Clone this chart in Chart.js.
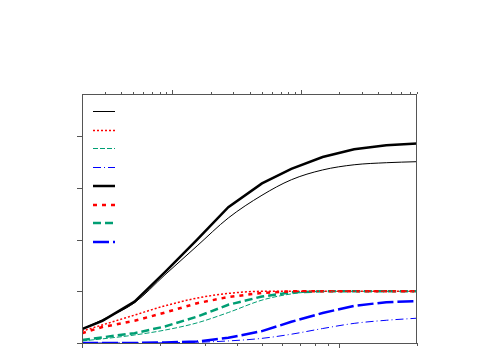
<!DOCTYPE html>
<html>
<head>
<meta charset="utf-8">
<script src="https://cdn.jsdelivr.net/npm/chart.js@4"></script>
<style>
html,body{margin:0;padding:0;background:#fff;}
#wrap{width:500px;height:350px;}
</style>
</head>
<body>
<div id="wrap"><canvas id="c" width="500" height="350"></canvas></div>
<script>
// ---- data ----
const xs = [1, 1.2, 1.6, 2.1, 2.8, 3.7, 5, 6.5, 8.6, 11.4, 15.2, 20];
const blackThin  = [0.27, 0.45, 0.78, 1.32, 1.88, 2.42, 2.86, 3.16, 3.35, 3.45, 3.49, 3.51];
const redDotted  = [0.23, 0.35, 0.54, 0.72, 0.87, 0.96, 1.0, 1.0, 1.0, 1.0, 1.0, 1.0];
const greenThin  = [0.04, 0.08, 0.155, 0.25, 0.39, 0.59, 0.83, 0.95, 1.0, 1.0, 1.0, 1.0];
const blueThin   = [0, 0, 0, 0.005, 0.015, 0.04, 0.09, 0.17, 0.28, 0.38, 0.44, 0.48];
const blackThick = [0.27, 0.43, 0.80, 1.37, 2.0, 2.63, 3.09, 3.37, 3.60, 3.75, 3.83, 3.86];
const redThick   = [0.19, 0.31, 0.43, 0.59, 0.77, 0.89, 0.97, 1.0, 1.0, 1.0, 1.0, 1.0];
const greenThick = [0.06, 0.11, 0.19, 0.32, 0.51, 0.74, 0.90, 0.98, 1.0, 1.0, 1.0, 1.0];
const blueThick  = [0, 0, 0, 0.01, 0.03, 0.10, 0.23, 0.41, 0.58, 0.72, 0.79, 0.81];

// tick values (no labels shown)
const bottomTicks = [1, 2, 3, 4, 5, 6, 7, 8, 9, 10, 20];
const topTicks = [0.3, 0.4, 0.5, 0.6, 0.7, 0.8, 0.9, 1, 2, 3, 4, 5, 6, 7, 8, 9, 10, 20, 30, 40, 50, 60, 70, 80];
const yTicks = [0, 1, 2, 3, 4];

const pts = arr => xs.map((x, i) => ({x: x, y: arr[i]}));

const GREEN = '#009e73';
const series = [
  {data: blackThin,  color: '#000000', width: 1,   dash: [],          smooth: true},
  {data: redDotted,  color: '#ff0000', width: 1.5, dash: [2, 2],      smooth: true},
  {data: greenThin,  color: GREEN,     width: 1,   dash: [5, 2],      smooth: true},
  {data: blueThin,   color: '#0000ff', width: 1,   dash: [8, 3, 1, 3], smooth: true},
  {data: blackThick, color: '#000000', width: 2.5, dash: [],          smooth: false},
  {data: redThick,   color: '#ff0000', width: 2.5, dash: [4, 5],      smooth: false},
  {data: greenThick, color: GREEN,     width: 2.5, dash: [8, 4],      smooth: false},
  {data: blueThick,  color: '#0000ff', width: 2.5, dash: [16, 4],     smooth: false}
];

const datasets = series.map(s => ({
  data: pts(s.data),
  borderColor: s.color,
  backgroundColor: s.color,
  borderWidth: s.width,
  borderDash: s.dash,
  pointRadius: 0,
  fill: false,
  cubicInterpolationMode: s.smooth ? 'monotone' : 'default',
  tension: 0,
  xAxisID: 'x',
  yAxisID: 'y'
}));

const framePlugin = {
  id: 'frame',
  afterDraw(chart) {
    const ctx = chart.ctx;
    const a = chart.chartArea;
    const sx = chart.scales.x, st = chart.scales.x2, sy = chart.scales.y;
    ctx.save();
    ctx.strokeStyle = '#555555';
    ctx.lineWidth = 1;
    ctx.setLineDash([]);
    ctx.strokeRect(a.left + 0.5, a.top + 0.5, a.right - a.left - 1, a.bottom - a.top);
    const isMajor = v => Math.abs(Math.log10(v) - Math.round(Math.log10(v))) < 1e-9;
    ctx.beginPath();
    bottomTicks.forEach(v => {
      const px = Math.round(sx.getPixelForValue(v)) + 0.5;
      const len = isMajor(v) ? 5 : 3;
      ctx.moveTo(px, a.bottom); ctx.lineTo(px, a.bottom + len);
    });
    topTicks.forEach(v => {
      const px = Math.round(st.getPixelForValue(v)) + 0.5;
      const len = isMajor(v) ? 4 : 2;
      ctx.moveTo(px, a.top); ctx.lineTo(px, a.top - len);
    });
    yTicks.forEach(v => {
      const py = Math.round(sy.getPixelForValue(v)) + 0.5;
      ctx.moveTo(a.left, py); ctx.lineTo(a.left - 5, py);
    });
    ctx.stroke();
    // legend samples (no text)
    series.forEach((s, i) => {
      let y = Math.round(a.top + 17 + i * 18.7);
      if (s.width < 2) y += 0.5;
      ctx.beginPath();
      ctx.strokeStyle = s.color;
      ctx.lineWidth = s.width;
      ctx.setLineDash(s.dash);
      ctx.moveTo(a.left + 11, y);
      ctx.lineTo(a.left + 33, y);
      ctx.stroke();
    });
    ctx.restore();
  }
};

new Chart(document.getElementById('c'), {
  type: 'line',
  data: {datasets: datasets},
  options: {
    responsive: false,
    animation: false,
    layout: {padding: {left: 82, right: 83, top: 94, bottom: 7}},
    plugins: {legend: {display: false}, tooltip: {enabled: false}, title: {display: false}},
    scales: {
      x: {type: 'logarithmic', position: 'bottom', min: 1, max: 20, display: false},
      x2: {type: 'logarithmic', position: 'top', min: 0.2, max: 80, display: false},
      y: {type: 'linear', min: 0, max: 4.82, display: false}
    }
  },
  plugins: [framePlugin]
});
</script>
</body>
</html>
